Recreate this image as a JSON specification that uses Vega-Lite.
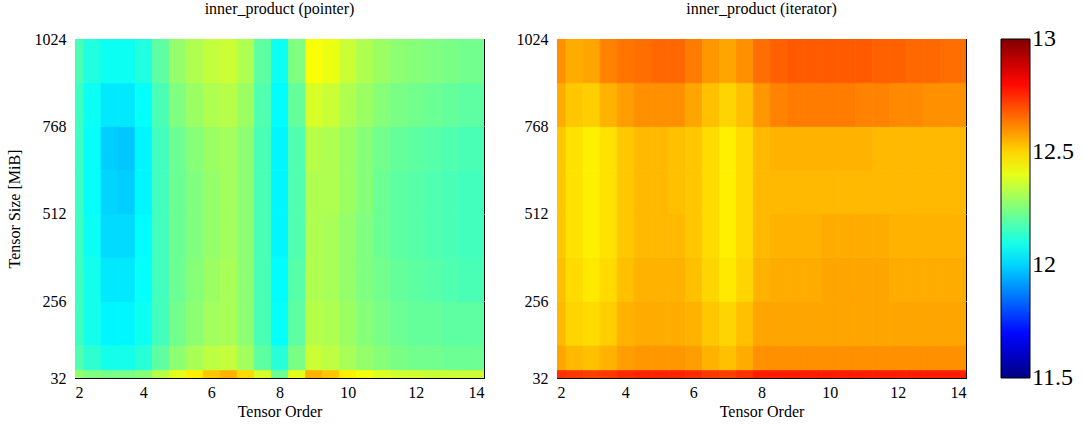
{
  "$schema": "https://vega.github.io/schema/vega-lite/v6.json",
  "padding": {"left": 5, "top": 0, "right": 0, "bottom": 0},
  "config": {
    "font": "Liberation Serif",
    "view": {"stroke": "black", "strokeWidth": 1},
    "axis": {
      "labelFont": "Liberation Serif",
      "titleFont": "Liberation Serif",
      "labelFontSize": 16,
      "titleFontSize": 16,
      "titleFontWeight": "normal",
      "labelColor": "black",
      "titleColor": "black",
      "domain": false,
      "ticks": false,
      "grid": true,
      "gridWidth": 1,
      "zindex": 1
    },
    "title": {"font": "Liberation Serif", "fontSize": 16, "fontWeight": "normal", "color": "black", "offset": 14},
    "legend": {
      "labelFont": "Liberation Serif",
      "labelFontSize": 24,
      "labelColor": "black",
      "gradientLength": 339,
      "gradientThickness": 29,
      "gradientStrokeColor": "black",
      "gradientStrokeWidth": 1,
      "labelOverlap": false,
      "labelOffset": 9,
      "offset": 34,
      "padding": 0
    }
  },
  "data": {
    "values": [
      {"impl":"pointer","order":2,"lo":32,"hi":56,"v":12.28},{"impl":"pointer","order":2.5,"lo":32,"hi":56,"v":12.25},{"impl":"pointer","order":3,"lo":32,"hi":56,"v":12.24},{"impl":"pointer","order":3.5,"lo":32,"hi":56,"v":12.24},{"impl":"pointer","order":4,"lo":32,"hi":56,"v":12.26},{"impl":"pointer","order":4.5,"lo":32,"hi":56,"v":12.33},{"impl":"pointer","order":5,"lo":32,"hi":56,"v":12.40},{"impl":"pointer","order":5.5,"lo":32,"hi":56,"v":12.46},{"impl":"pointer","order":6,"lo":32,"hi":56,"v":12.52},{"impl":"pointer","order":6.5,"lo":32,"hi":56,"v":12.55},{"impl":"pointer","order":7,"lo":32,"hi":56,"v":12.49},{"impl":"pointer","order":7.5,"lo":32,"hi":56,"v":12.38},{"impl":"pointer","order":8,"lo":32,"hi":56,"v":12.22},{"impl":"pointer","order":8.5,"lo":32,"hi":56,"v":12.40},{"impl":"pointer","order":9,"lo":32,"hi":56,"v":12.55},{"impl":"pointer","order":9.5,"lo":32,"hi":56,"v":12.52},{"impl":"pointer","order":10,"lo":32,"hi":56,"v":12.46},{"impl":"pointer","order":10.5,"lo":32,"hi":56,"v":12.42},{"impl":"pointer","order":11,"lo":32,"hi":56,"v":12.39},{"impl":"pointer","order":11.5,"lo":32,"hi":56,"v":12.37},{"impl":"pointer","order":12,"lo":32,"hi":56,"v":12.37},{"impl":"pointer","order":12.5,"lo":32,"hi":56,"v":12.36},{"impl":"pointer","order":13,"lo":32,"hi":56,"v":12.36},{"impl":"pointer","order":13.5,"lo":32,"hi":56,"v":12.36},{"impl":"pointer","order":14,"lo":32,"hi":56,"v":12.36},
      {"impl":"pointer","order":2,"lo":56,"hi":128,"v":12.18},{"impl":"pointer","order":2.5,"lo":56,"hi":128,"v":12.13},{"impl":"pointer","order":3,"lo":56,"hi":128,"v":12.09},{"impl":"pointer","order":3.5,"lo":56,"hi":128,"v":12.09},{"impl":"pointer","order":4,"lo":56,"hi":128,"v":12.12},{"impl":"pointer","order":4.5,"lo":56,"hi":128,"v":12.20},{"impl":"pointer","order":5,"lo":56,"hi":128,"v":12.27},{"impl":"pointer","order":5.5,"lo":56,"hi":128,"v":12.31},{"impl":"pointer","order":6,"lo":56,"hi":128,"v":12.34},{"impl":"pointer","order":6.5,"lo":56,"hi":128,"v":12.35},{"impl":"pointer","order":7,"lo":56,"hi":128,"v":12.30},{"impl":"pointer","order":7.5,"lo":56,"hi":128,"v":12.20},{"impl":"pointer","order":8,"lo":56,"hi":128,"v":12.12},{"impl":"pointer","order":8.5,"lo":56,"hi":128,"v":12.24},{"impl":"pointer","order":9,"lo":56,"hi":128,"v":12.36},{"impl":"pointer","order":9.5,"lo":56,"hi":128,"v":12.34},{"impl":"pointer","order":10,"lo":56,"hi":128,"v":12.31},{"impl":"pointer","order":10.5,"lo":56,"hi":128,"v":12.28},{"impl":"pointer","order":11,"lo":56,"hi":128,"v":12.26},{"impl":"pointer","order":11.5,"lo":56,"hi":128,"v":12.24},{"impl":"pointer","order":12,"lo":56,"hi":128,"v":12.23},{"impl":"pointer","order":12.5,"lo":56,"hi":128,"v":12.23},{"impl":"pointer","order":13,"lo":56,"hi":128,"v":12.22},{"impl":"pointer","order":13.5,"lo":56,"hi":128,"v":12.22},{"impl":"pointer","order":14,"lo":56,"hi":128,"v":12.22},
      {"impl":"pointer","order":2,"lo":128,"hi":256,"v":12.15},{"impl":"pointer","order":2.5,"lo":128,"hi":256,"v":12.09},{"impl":"pointer","order":3,"lo":128,"hi":256,"v":12.05},{"impl":"pointer","order":3.5,"lo":128,"hi":256,"v":12.05},{"impl":"pointer","order":4,"lo":128,"hi":256,"v":12.08},{"impl":"pointer","order":4.5,"lo":128,"hi":256,"v":12.16},{"impl":"pointer","order":5,"lo":128,"hi":256,"v":12.23},{"impl":"pointer","order":5.5,"lo":128,"hi":256,"v":12.27},{"impl":"pointer","order":6,"lo":128,"hi":256,"v":12.30},{"impl":"pointer","order":6.5,"lo":128,"hi":256,"v":12.31},{"impl":"pointer","order":7,"lo":128,"hi":256,"v":12.27},{"impl":"pointer","order":7.5,"lo":128,"hi":256,"v":12.17},{"impl":"pointer","order":8,"lo":128,"hi":256,"v":12.07},{"impl":"pointer","order":8.5,"lo":128,"hi":256,"v":12.20},{"impl":"pointer","order":9,"lo":128,"hi":256,"v":12.33},{"impl":"pointer","order":9.5,"lo":128,"hi":256,"v":12.32},{"impl":"pointer","order":10,"lo":128,"hi":256,"v":12.29},{"impl":"pointer","order":10.5,"lo":128,"hi":256,"v":12.26},{"impl":"pointer","order":11,"lo":128,"hi":256,"v":12.24},{"impl":"pointer","order":11.5,"lo":128,"hi":256,"v":12.22},{"impl":"pointer","order":12,"lo":128,"hi":256,"v":12.21},{"impl":"pointer","order":12.5,"lo":128,"hi":256,"v":12.21},{"impl":"pointer","order":13,"lo":128,"hi":256,"v":12.20},{"impl":"pointer","order":13.5,"lo":128,"hi":256,"v":12.20},{"impl":"pointer","order":14,"lo":128,"hi":256,"v":12.20},
      {"impl":"pointer","order":2,"lo":256,"hi":384,"v":12.15},{"impl":"pointer","order":2.5,"lo":256,"hi":384,"v":12.09},{"impl":"pointer","order":3,"lo":256,"hi":384,"v":12.03},{"impl":"pointer","order":3.5,"lo":256,"hi":384,"v":12.03},{"impl":"pointer","order":4,"lo":256,"hi":384,"v":12.07},{"impl":"pointer","order":4.5,"lo":256,"hi":384,"v":12.16},{"impl":"pointer","order":5,"lo":256,"hi":384,"v":12.22},{"impl":"pointer","order":5.5,"lo":256,"hi":384,"v":12.26},{"impl":"pointer","order":6,"lo":256,"hi":384,"v":12.29},{"impl":"pointer","order":6.5,"lo":256,"hi":384,"v":12.31},{"impl":"pointer","order":7,"lo":256,"hi":384,"v":12.27},{"impl":"pointer","order":7.5,"lo":256,"hi":384,"v":12.17},{"impl":"pointer","order":8,"lo":256,"hi":384,"v":12.06},{"impl":"pointer","order":8.5,"lo":256,"hi":384,"v":12.19},{"impl":"pointer","order":9,"lo":256,"hi":384,"v":12.32},{"impl":"pointer","order":9.5,"lo":256,"hi":384,"v":12.31},{"impl":"pointer","order":10,"lo":256,"hi":384,"v":12.28},{"impl":"pointer","order":10.5,"lo":256,"hi":384,"v":12.25},{"impl":"pointer","order":11,"lo":256,"hi":384,"v":12.23},{"impl":"pointer","order":11.5,"lo":256,"hi":384,"v":12.21},{"impl":"pointer","order":12,"lo":256,"hi":384,"v":12.20},{"impl":"pointer","order":12.5,"lo":256,"hi":384,"v":12.19},{"impl":"pointer","order":13,"lo":256,"hi":384,"v":12.18},{"impl":"pointer","order":13.5,"lo":256,"hi":384,"v":12.17},{"impl":"pointer","order":14,"lo":256,"hi":384,"v":12.17},
      {"impl":"pointer","order":2,"lo":384,"hi":512,"v":12.15},{"impl":"pointer","order":2.5,"lo":384,"hi":512,"v":12.08},{"impl":"pointer","order":3,"lo":384,"hi":512,"v":12.01},{"impl":"pointer","order":3.5,"lo":384,"hi":512,"v":12.01},{"impl":"pointer","order":4,"lo":384,"hi":512,"v":12.06},{"impl":"pointer","order":4.5,"lo":384,"hi":512,"v":12.16},{"impl":"pointer","order":5,"lo":384,"hi":512,"v":12.22},{"impl":"pointer","order":5.5,"lo":384,"hi":512,"v":12.25},{"impl":"pointer","order":6,"lo":384,"hi":512,"v":12.28},{"impl":"pointer","order":6.5,"lo":384,"hi":512,"v":12.30},{"impl":"pointer","order":7,"lo":384,"hi":512,"v":12.27},{"impl":"pointer","order":7.5,"lo":384,"hi":512,"v":12.17},{"impl":"pointer","order":8,"lo":384,"hi":512,"v":12.05},{"impl":"pointer","order":8.5,"lo":384,"hi":512,"v":12.18},{"impl":"pointer","order":9,"lo":384,"hi":512,"v":12.32},{"impl":"pointer","order":9.5,"lo":384,"hi":512,"v":12.31},{"impl":"pointer","order":10,"lo":384,"hi":512,"v":12.28},{"impl":"pointer","order":10.5,"lo":384,"hi":512,"v":12.25},{"impl":"pointer","order":11,"lo":384,"hi":512,"v":12.22},{"impl":"pointer","order":11.5,"lo":384,"hi":512,"v":12.20},{"impl":"pointer","order":12,"lo":384,"hi":512,"v":12.19},{"impl":"pointer","order":12.5,"lo":384,"hi":512,"v":12.18},{"impl":"pointer","order":13,"lo":384,"hi":512,"v":12.17},{"impl":"pointer","order":13.5,"lo":384,"hi":512,"v":12.16},{"impl":"pointer","order":14,"lo":384,"hi":512,"v":12.16},
      {"impl":"pointer","order":2,"lo":512,"hi":640,"v":12.15},{"impl":"pointer","order":2.5,"lo":512,"hi":640,"v":12.07},{"impl":"pointer","order":3,"lo":512,"hi":640,"v":12.00},{"impl":"pointer","order":3.5,"lo":512,"hi":640,"v":11.99},{"impl":"pointer","order":4,"lo":512,"hi":640,"v":12.05},{"impl":"pointer","order":4.5,"lo":512,"hi":640,"v":12.16},{"impl":"pointer","order":5,"lo":512,"hi":640,"v":12.22},{"impl":"pointer","order":5.5,"lo":512,"hi":640,"v":12.25},{"impl":"pointer","order":6,"lo":512,"hi":640,"v":12.28},{"impl":"pointer","order":6.5,"lo":512,"hi":640,"v":12.30},{"impl":"pointer","order":7,"lo":512,"hi":640,"v":12.27},{"impl":"pointer","order":7.5,"lo":512,"hi":640,"v":12.17},{"impl":"pointer","order":8,"lo":512,"hi":640,"v":12.05},{"impl":"pointer","order":8.5,"lo":512,"hi":640,"v":12.18},{"impl":"pointer","order":9,"lo":512,"hi":640,"v":12.32},{"impl":"pointer","order":9.5,"lo":512,"hi":640,"v":12.32},{"impl":"pointer","order":10,"lo":512,"hi":640,"v":12.29},{"impl":"pointer","order":10.5,"lo":512,"hi":640,"v":12.26},{"impl":"pointer","order":11,"lo":512,"hi":640,"v":12.22},{"impl":"pointer","order":11.5,"lo":512,"hi":640,"v":12.20},{"impl":"pointer","order":12,"lo":512,"hi":640,"v":12.19},{"impl":"pointer","order":12.5,"lo":512,"hi":640,"v":12.18},{"impl":"pointer","order":13,"lo":512,"hi":640,"v":12.17},{"impl":"pointer","order":13.5,"lo":512,"hi":640,"v":12.16},{"impl":"pointer","order":14,"lo":512,"hi":640,"v":12.16},
      {"impl":"pointer","order":2,"lo":640,"hi":768,"v":12.15},{"impl":"pointer","order":2.5,"lo":640,"hi":768,"v":12.07},{"impl":"pointer","order":3,"lo":640,"hi":768,"v":11.99},{"impl":"pointer","order":3.5,"lo":640,"hi":768,"v":11.98},{"impl":"pointer","order":4,"lo":640,"hi":768,"v":12.05},{"impl":"pointer","order":4.5,"lo":640,"hi":768,"v":12.16},{"impl":"pointer","order":5,"lo":640,"hi":768,"v":12.22},{"impl":"pointer","order":5.5,"lo":640,"hi":768,"v":12.26},{"impl":"pointer","order":6,"lo":640,"hi":768,"v":12.29},{"impl":"pointer","order":6.5,"lo":640,"hi":768,"v":12.30},{"impl":"pointer","order":7,"lo":640,"hi":768,"v":12.27},{"impl":"pointer","order":7.5,"lo":640,"hi":768,"v":12.17},{"impl":"pointer","order":8,"lo":640,"hi":768,"v":12.05},{"impl":"pointer","order":8.5,"lo":640,"hi":768,"v":12.18},{"impl":"pointer","order":9,"lo":640,"hi":768,"v":12.33},{"impl":"pointer","order":9.5,"lo":640,"hi":768,"v":12.32},{"impl":"pointer","order":10,"lo":640,"hi":768,"v":12.29},{"impl":"pointer","order":10.5,"lo":640,"hi":768,"v":12.26},{"impl":"pointer","order":11,"lo":640,"hi":768,"v":12.23},{"impl":"pointer","order":11.5,"lo":640,"hi":768,"v":12.21},{"impl":"pointer","order":12,"lo":640,"hi":768,"v":12.20},{"impl":"pointer","order":12.5,"lo":640,"hi":768,"v":12.19},{"impl":"pointer","order":13,"lo":640,"hi":768,"v":12.18},{"impl":"pointer","order":13.5,"lo":640,"hi":768,"v":12.17},{"impl":"pointer","order":14,"lo":640,"hi":768,"v":12.17},
      {"impl":"pointer","order":2,"lo":768,"hi":896,"v":12.15},{"impl":"pointer","order":2.5,"lo":768,"hi":896,"v":12.08},{"impl":"pointer","order":3,"lo":768,"hi":896,"v":12.03},{"impl":"pointer","order":3.5,"lo":768,"hi":896,"v":12.03},{"impl":"pointer","order":4,"lo":768,"hi":896,"v":12.07},{"impl":"pointer","order":4.5,"lo":768,"hi":896,"v":12.17},{"impl":"pointer","order":5,"lo":768,"hi":896,"v":12.25},{"impl":"pointer","order":5.5,"lo":768,"hi":896,"v":12.29},{"impl":"pointer","order":6,"lo":768,"hi":896,"v":12.32},{"impl":"pointer","order":6.5,"lo":768,"hi":896,"v":12.33},{"impl":"pointer","order":7,"lo":768,"hi":896,"v":12.29},{"impl":"pointer","order":7.5,"lo":768,"hi":896,"v":12.18},{"impl":"pointer","order":8,"lo":768,"hi":896,"v":12.06},{"impl":"pointer","order":8.5,"lo":768,"hi":896,"v":12.21},{"impl":"pointer","order":9,"lo":768,"hi":896,"v":12.38},{"impl":"pointer","order":9.5,"lo":768,"hi":896,"v":12.36},{"impl":"pointer","order":10,"lo":768,"hi":896,"v":12.32},{"impl":"pointer","order":10.5,"lo":768,"hi":896,"v":12.29},{"impl":"pointer","order":11,"lo":768,"hi":896,"v":12.26},{"impl":"pointer","order":11.5,"lo":768,"hi":896,"v":12.24},{"impl":"pointer","order":12,"lo":768,"hi":896,"v":12.23},{"impl":"pointer","order":12.5,"lo":768,"hi":896,"v":12.22},{"impl":"pointer","order":13,"lo":768,"hi":896,"v":12.21},{"impl":"pointer","order":13.5,"lo":768,"hi":896,"v":12.20},{"impl":"pointer","order":14,"lo":768,"hi":896,"v":12.20},
      {"impl":"pointer","order":2,"lo":896,"hi":1024,"v":12.17},{"impl":"pointer","order":2.5,"lo":896,"hi":1024,"v":12.11},{"impl":"pointer","order":3,"lo":896,"hi":1024,"v":12.08},{"impl":"pointer","order":3.5,"lo":896,"hi":1024,"v":12.08},{"impl":"pointer","order":4,"lo":896,"hi":1024,"v":12.11},{"impl":"pointer","order":4.5,"lo":896,"hi":1024,"v":12.20},{"impl":"pointer","order":5,"lo":896,"hi":1024,"v":12.28},{"impl":"pointer","order":5.5,"lo":896,"hi":1024,"v":12.32},{"impl":"pointer","order":6,"lo":896,"hi":1024,"v":12.35},{"impl":"pointer","order":6.5,"lo":896,"hi":1024,"v":12.36},{"impl":"pointer","order":7,"lo":896,"hi":1024,"v":12.32},{"impl":"pointer","order":7.5,"lo":896,"hi":1024,"v":12.20},{"impl":"pointer","order":8,"lo":896,"hi":1024,"v":12.08},{"impl":"pointer","order":8.5,"lo":896,"hi":1024,"v":12.25},{"impl":"pointer","order":9,"lo":896,"hi":1024,"v":12.43},{"impl":"pointer","order":9.5,"lo":896,"hi":1024,"v":12.41},{"impl":"pointer","order":10,"lo":896,"hi":1024,"v":12.36},{"impl":"pointer","order":10.5,"lo":896,"hi":1024,"v":12.32},{"impl":"pointer","order":11,"lo":896,"hi":1024,"v":12.29},{"impl":"pointer","order":11.5,"lo":896,"hi":1024,"v":12.27},{"impl":"pointer","order":12,"lo":896,"hi":1024,"v":12.26},{"impl":"pointer","order":12.5,"lo":896,"hi":1024,"v":12.25},{"impl":"pointer","order":13,"lo":896,"hi":1024,"v":12.24},{"impl":"pointer","order":13.5,"lo":896,"hi":1024,"v":12.23},{"impl":"pointer","order":14,"lo":896,"hi":1024,"v":12.23},
      {"impl":"iterator","order":2,"lo":32,"hi":56,"v":12.74},{"impl":"iterator","order":2.5,"lo":32,"hi":56,"v":12.73},{"impl":"iterator","order":3,"lo":32,"hi":56,"v":12.72},{"impl":"iterator","order":3.5,"lo":32,"hi":56,"v":12.73},{"impl":"iterator","order":4,"lo":32,"hi":56,"v":12.75},{"impl":"iterator","order":4.5,"lo":32,"hi":56,"v":12.76},{"impl":"iterator","order":5,"lo":32,"hi":56,"v":12.76},{"impl":"iterator","order":5.5,"lo":32,"hi":56,"v":12.76},{"impl":"iterator","order":6,"lo":32,"hi":56,"v":12.75},{"impl":"iterator","order":6.5,"lo":32,"hi":56,"v":12.73},{"impl":"iterator","order":7,"lo":32,"hi":56,"v":12.72},{"impl":"iterator","order":7.5,"lo":32,"hi":56,"v":12.74},{"impl":"iterator","order":8,"lo":32,"hi":56,"v":12.77},{"impl":"iterator","order":8.5,"lo":32,"hi":56,"v":12.77},{"impl":"iterator","order":9,"lo":32,"hi":56,"v":12.77},{"impl":"iterator","order":9.5,"lo":32,"hi":56,"v":12.77},{"impl":"iterator","order":10,"lo":32,"hi":56,"v":12.77},{"impl":"iterator","order":10.5,"lo":32,"hi":56,"v":12.77},{"impl":"iterator","order":11,"lo":32,"hi":56,"v":12.77},{"impl":"iterator","order":11.5,"lo":32,"hi":56,"v":12.77},{"impl":"iterator","order":12,"lo":32,"hi":56,"v":12.77},{"impl":"iterator","order":12.5,"lo":32,"hi":56,"v":12.77},{"impl":"iterator","order":13,"lo":32,"hi":56,"v":12.77},{"impl":"iterator","order":13.5,"lo":32,"hi":56,"v":12.77},{"impl":"iterator","order":14,"lo":32,"hi":56,"v":12.77},
      {"impl":"iterator","order":2,"lo":56,"hi":128,"v":12.57},{"impl":"iterator","order":2.5,"lo":56,"hi":128,"v":12.54},{"impl":"iterator","order":3,"lo":56,"hi":128,"v":12.53},{"impl":"iterator","order":3.5,"lo":56,"hi":128,"v":12.55},{"impl":"iterator","order":4,"lo":56,"hi":128,"v":12.58},{"impl":"iterator","order":4.5,"lo":56,"hi":128,"v":12.59},{"impl":"iterator","order":5,"lo":56,"hi":128,"v":12.59},{"impl":"iterator","order":5.5,"lo":56,"hi":128,"v":12.59},{"impl":"iterator","order":6,"lo":56,"hi":128,"v":12.58},{"impl":"iterator","order":6.5,"lo":56,"hi":128,"v":12.55},{"impl":"iterator","order":7,"lo":56,"hi":128,"v":12.53},{"impl":"iterator","order":7.5,"lo":56,"hi":128,"v":12.56},{"impl":"iterator","order":8,"lo":56,"hi":128,"v":12.60},{"impl":"iterator","order":8.5,"lo":56,"hi":128,"v":12.60},{"impl":"iterator","order":9,"lo":56,"hi":128,"v":12.60},{"impl":"iterator","order":9.5,"lo":56,"hi":128,"v":12.60},{"impl":"iterator","order":10,"lo":56,"hi":128,"v":12.60},{"impl":"iterator","order":10.5,"lo":56,"hi":128,"v":12.60},{"impl":"iterator","order":11,"lo":56,"hi":128,"v":12.60},{"impl":"iterator","order":11.5,"lo":56,"hi":128,"v":12.60},{"impl":"iterator","order":12,"lo":56,"hi":128,"v":12.60},{"impl":"iterator","order":12.5,"lo":56,"hi":128,"v":12.60},{"impl":"iterator","order":13,"lo":56,"hi":128,"v":12.60},{"impl":"iterator","order":13.5,"lo":56,"hi":128,"v":12.60},{"impl":"iterator","order":14,"lo":56,"hi":128,"v":12.60},
      {"impl":"iterator","order":2,"lo":128,"hi":256,"v":12.54},{"impl":"iterator","order":2.5,"lo":128,"hi":256,"v":12.50},{"impl":"iterator","order":3,"lo":128,"hi":256,"v":12.49},{"impl":"iterator","order":3.5,"lo":128,"hi":256,"v":12.51},{"impl":"iterator","order":4,"lo":128,"hi":256,"v":12.55},{"impl":"iterator","order":4.5,"lo":128,"hi":256,"v":12.56},{"impl":"iterator","order":5,"lo":128,"hi":256,"v":12.56},{"impl":"iterator","order":5.5,"lo":128,"hi":256,"v":12.56},{"impl":"iterator","order":6,"lo":128,"hi":256,"v":12.55},{"impl":"iterator","order":6.5,"lo":128,"hi":256,"v":12.52},{"impl":"iterator","order":7,"lo":128,"hi":256,"v":12.50},{"impl":"iterator","order":7.5,"lo":128,"hi":256,"v":12.53},{"impl":"iterator","order":8,"lo":128,"hi":256,"v":12.57},{"impl":"iterator","order":8.5,"lo":128,"hi":256,"v":12.57},{"impl":"iterator","order":9,"lo":128,"hi":256,"v":12.57},{"impl":"iterator","order":9.5,"lo":128,"hi":256,"v":12.57},{"impl":"iterator","order":10,"lo":128,"hi":256,"v":12.57},{"impl":"iterator","order":10.5,"lo":128,"hi":256,"v":12.57},{"impl":"iterator","order":11,"lo":128,"hi":256,"v":12.57},{"impl":"iterator","order":11.5,"lo":128,"hi":256,"v":12.57},{"impl":"iterator","order":12,"lo":128,"hi":256,"v":12.57},{"impl":"iterator","order":12.5,"lo":128,"hi":256,"v":12.57},{"impl":"iterator","order":13,"lo":128,"hi":256,"v":12.57},{"impl":"iterator","order":13.5,"lo":128,"hi":256,"v":12.57},{"impl":"iterator","order":14,"lo":128,"hi":256,"v":12.57},
      {"impl":"iterator","order":2,"lo":256,"hi":384,"v":12.53},{"impl":"iterator","order":2.5,"lo":256,"hi":384,"v":12.49},{"impl":"iterator","order":3,"lo":256,"hi":384,"v":12.47},{"impl":"iterator","order":3.5,"lo":256,"hi":384,"v":12.49},{"impl":"iterator","order":4,"lo":256,"hi":384,"v":12.53},{"impl":"iterator","order":4.5,"lo":256,"hi":384,"v":12.55},{"impl":"iterator","order":5,"lo":256,"hi":384,"v":12.55},{"impl":"iterator","order":5.5,"lo":256,"hi":384,"v":12.55},{"impl":"iterator","order":6,"lo":256,"hi":384,"v":12.53},{"impl":"iterator","order":6.5,"lo":256,"hi":384,"v":12.50},{"impl":"iterator","order":7,"lo":256,"hi":384,"v":12.47},{"impl":"iterator","order":7.5,"lo":256,"hi":384,"v":12.50},{"impl":"iterator","order":8,"lo":256,"hi":384,"v":12.55},{"impl":"iterator","order":8.5,"lo":256,"hi":384,"v":12.56},{"impl":"iterator","order":9,"lo":256,"hi":384,"v":12.56},{"impl":"iterator","order":9.5,"lo":256,"hi":384,"v":12.56},{"impl":"iterator","order":10,"lo":256,"hi":384,"v":12.57},{"impl":"iterator","order":10.5,"lo":256,"hi":384,"v":12.57},{"impl":"iterator","order":11,"lo":256,"hi":384,"v":12.57},{"impl":"iterator","order":11.5,"lo":256,"hi":384,"v":12.57},{"impl":"iterator","order":12,"lo":256,"hi":384,"v":12.56},{"impl":"iterator","order":12.5,"lo":256,"hi":384,"v":12.56},{"impl":"iterator","order":13,"lo":256,"hi":384,"v":12.56},{"impl":"iterator","order":13.5,"lo":256,"hi":384,"v":12.56},{"impl":"iterator","order":14,"lo":256,"hi":384,"v":12.56},
      {"impl":"iterator","order":2,"lo":384,"hi":512,"v":12.52},{"impl":"iterator","order":2.5,"lo":384,"hi":512,"v":12.48},{"impl":"iterator","order":3,"lo":384,"hi":512,"v":12.46},{"impl":"iterator","order":3.5,"lo":384,"hi":512,"v":12.48},{"impl":"iterator","order":4,"lo":384,"hi":512,"v":12.52},{"impl":"iterator","order":4.5,"lo":384,"hi":512,"v":12.54},{"impl":"iterator","order":5,"lo":384,"hi":512,"v":12.54},{"impl":"iterator","order":5.5,"lo":384,"hi":512,"v":12.54},{"impl":"iterator","order":6,"lo":384,"hi":512,"v":12.52},{"impl":"iterator","order":6.5,"lo":384,"hi":512,"v":12.49},{"impl":"iterator","order":7,"lo":384,"hi":512,"v":12.46},{"impl":"iterator","order":7.5,"lo":384,"hi":512,"v":12.49},{"impl":"iterator","order":8,"lo":384,"hi":512,"v":12.54},{"impl":"iterator","order":8.5,"lo":384,"hi":512,"v":12.55},{"impl":"iterator","order":9,"lo":384,"hi":512,"v":12.55},{"impl":"iterator","order":9.5,"lo":384,"hi":512,"v":12.55},{"impl":"iterator","order":10,"lo":384,"hi":512,"v":12.56},{"impl":"iterator","order":10.5,"lo":384,"hi":512,"v":12.56},{"impl":"iterator","order":11,"lo":384,"hi":512,"v":12.56},{"impl":"iterator","order":11.5,"lo":384,"hi":512,"v":12.56},{"impl":"iterator","order":12,"lo":384,"hi":512,"v":12.55},{"impl":"iterator","order":12.5,"lo":384,"hi":512,"v":12.55},{"impl":"iterator","order":13,"lo":384,"hi":512,"v":12.55},{"impl":"iterator","order":13.5,"lo":384,"hi":512,"v":12.55},{"impl":"iterator","order":14,"lo":384,"hi":512,"v":12.55},
      {"impl":"iterator","order":2,"lo":512,"hi":640,"v":12.52},{"impl":"iterator","order":2.5,"lo":512,"hi":640,"v":12.48},{"impl":"iterator","order":3,"lo":512,"hi":640,"v":12.46},{"impl":"iterator","order":3.5,"lo":512,"hi":640,"v":12.48},{"impl":"iterator","order":4,"lo":512,"hi":640,"v":12.52},{"impl":"iterator","order":4.5,"lo":512,"hi":640,"v":12.54},{"impl":"iterator","order":5,"lo":512,"hi":640,"v":12.54},{"impl":"iterator","order":5.5,"lo":512,"hi":640,"v":12.53},{"impl":"iterator","order":6,"lo":512,"hi":640,"v":12.52},{"impl":"iterator","order":6.5,"lo":512,"hi":640,"v":12.49},{"impl":"iterator","order":7,"lo":512,"hi":640,"v":12.46},{"impl":"iterator","order":7.5,"lo":512,"hi":640,"v":12.49},{"impl":"iterator","order":8,"lo":512,"hi":640,"v":12.54},{"impl":"iterator","order":8.5,"lo":512,"hi":640,"v":12.54},{"impl":"iterator","order":9,"lo":512,"hi":640,"v":12.54},{"impl":"iterator","order":9.5,"lo":512,"hi":640,"v":12.54},{"impl":"iterator","order":10,"lo":512,"hi":640,"v":12.54},{"impl":"iterator","order":10.5,"lo":512,"hi":640,"v":12.54},{"impl":"iterator","order":11,"lo":512,"hi":640,"v":12.54},{"impl":"iterator","order":11.5,"lo":512,"hi":640,"v":12.54},{"impl":"iterator","order":12,"lo":512,"hi":640,"v":12.54},{"impl":"iterator","order":12.5,"lo":512,"hi":640,"v":12.54},{"impl":"iterator","order":13,"lo":512,"hi":640,"v":12.54},{"impl":"iterator","order":13.5,"lo":512,"hi":640,"v":12.54},{"impl":"iterator","order":14,"lo":512,"hi":640,"v":12.54},
      {"impl":"iterator","order":2,"lo":640,"hi":768,"v":12.52},{"impl":"iterator","order":2.5,"lo":640,"hi":768,"v":12.48},{"impl":"iterator","order":3,"lo":640,"hi":768,"v":12.46},{"impl":"iterator","order":3.5,"lo":640,"hi":768,"v":12.48},{"impl":"iterator","order":4,"lo":640,"hi":768,"v":12.52},{"impl":"iterator","order":4.5,"lo":640,"hi":768,"v":12.54},{"impl":"iterator","order":5,"lo":640,"hi":768,"v":12.54},{"impl":"iterator","order":5.5,"lo":640,"hi":768,"v":12.53},{"impl":"iterator","order":6,"lo":640,"hi":768,"v":12.52},{"impl":"iterator","order":6.5,"lo":640,"hi":768,"v":12.49},{"impl":"iterator","order":7,"lo":640,"hi":768,"v":12.46},{"impl":"iterator","order":7.5,"lo":640,"hi":768,"v":12.49},{"impl":"iterator","order":8,"lo":640,"hi":768,"v":12.54},{"impl":"iterator","order":8.5,"lo":640,"hi":768,"v":12.55},{"impl":"iterator","order":9,"lo":640,"hi":768,"v":12.55},{"impl":"iterator","order":9.5,"lo":640,"hi":768,"v":12.55},{"impl":"iterator","order":10,"lo":640,"hi":768,"v":12.55},{"impl":"iterator","order":10.5,"lo":640,"hi":768,"v":12.55},{"impl":"iterator","order":11,"lo":640,"hi":768,"v":12.55},{"impl":"iterator","order":11.5,"lo":640,"hi":768,"v":12.54},{"impl":"iterator","order":12,"lo":640,"hi":768,"v":12.54},{"impl":"iterator","order":12.5,"lo":640,"hi":768,"v":12.54},{"impl":"iterator","order":13,"lo":640,"hi":768,"v":12.54},{"impl":"iterator","order":13.5,"lo":640,"hi":768,"v":12.54},{"impl":"iterator","order":14,"lo":640,"hi":768,"v":12.54},
      {"impl":"iterator","order":2,"lo":768,"hi":896,"v":12.56},{"impl":"iterator","order":2.5,"lo":768,"hi":896,"v":12.52},{"impl":"iterator","order":3,"lo":768,"hi":896,"v":12.51},{"impl":"iterator","order":3.5,"lo":768,"hi":896,"v":12.55},{"impl":"iterator","order":4,"lo":768,"hi":896,"v":12.58},{"impl":"iterator","order":4.5,"lo":768,"hi":896,"v":12.60},{"impl":"iterator","order":5,"lo":768,"hi":896,"v":12.60},{"impl":"iterator","order":5.5,"lo":768,"hi":896,"v":12.60},{"impl":"iterator","order":6,"lo":768,"hi":896,"v":12.57},{"impl":"iterator","order":6.5,"lo":768,"hi":896,"v":12.53},{"impl":"iterator","order":7,"lo":768,"hi":896,"v":12.50},{"impl":"iterator","order":7.5,"lo":768,"hi":896,"v":12.53},{"impl":"iterator","order":8,"lo":768,"hi":896,"v":12.59},{"impl":"iterator","order":8.5,"lo":768,"hi":896,"v":12.62},{"impl":"iterator","order":9,"lo":768,"hi":896,"v":12.63},{"impl":"iterator","order":9.5,"lo":768,"hi":896,"v":12.63},{"impl":"iterator","order":10,"lo":768,"hi":896,"v":12.63},{"impl":"iterator","order":10.5,"lo":768,"hi":896,"v":12.63},{"impl":"iterator","order":11,"lo":768,"hi":896,"v":12.62},{"impl":"iterator","order":11.5,"lo":768,"hi":896,"v":12.62},{"impl":"iterator","order":12,"lo":768,"hi":896,"v":12.61},{"impl":"iterator","order":12.5,"lo":768,"hi":896,"v":12.61},{"impl":"iterator","order":13,"lo":768,"hi":896,"v":12.60},{"impl":"iterator","order":13.5,"lo":768,"hi":896,"v":12.60},{"impl":"iterator","order":14,"lo":768,"hi":896,"v":12.60},
      {"impl":"iterator","order":2,"lo":896,"hi":1024,"v":12.60},{"impl":"iterator","order":2.5,"lo":896,"hi":1024,"v":12.56},{"impl":"iterator","order":3,"lo":896,"hi":1024,"v":12.57},{"impl":"iterator","order":3.5,"lo":896,"hi":1024,"v":12.62},{"impl":"iterator","order":4,"lo":896,"hi":1024,"v":12.64},{"impl":"iterator","order":4.5,"lo":896,"hi":1024,"v":12.65},{"impl":"iterator","order":5,"lo":896,"hi":1024,"v":12.66},{"impl":"iterator","order":5.5,"lo":896,"hi":1024,"v":12.66},{"impl":"iterator","order":6,"lo":896,"hi":1024,"v":12.63},{"impl":"iterator","order":6.5,"lo":896,"hi":1024,"v":12.59},{"impl":"iterator","order":7,"lo":896,"hi":1024,"v":12.57},{"impl":"iterator","order":7.5,"lo":896,"hi":1024,"v":12.60},{"impl":"iterator","order":8,"lo":896,"hi":1024,"v":12.65},{"impl":"iterator","order":8.5,"lo":896,"hi":1024,"v":12.67},{"impl":"iterator","order":9,"lo":896,"hi":1024,"v":12.68},{"impl":"iterator","order":9.5,"lo":896,"hi":1024,"v":12.68},{"impl":"iterator","order":10,"lo":896,"hi":1024,"v":12.68},{"impl":"iterator","order":10.5,"lo":896,"hi":1024,"v":12.68},{"impl":"iterator","order":11,"lo":896,"hi":1024,"v":12.68},{"impl":"iterator","order":11.5,"lo":896,"hi":1024,"v":12.67},{"impl":"iterator","order":12,"lo":896,"hi":1024,"v":12.67},{"impl":"iterator","order":12.5,"lo":896,"hi":1024,"v":12.66},{"impl":"iterator","order":13,"lo":896,"hi":1024,"v":12.66},{"impl":"iterator","order":13.5,"lo":896,"hi":1024,"v":12.65},{"impl":"iterator","order":14,"lo":896,"hi":1024,"v":12.65}
    ]
  },
  "spacing": 30,
  "resolve": {"scale": {"color": "shared"}},
  "hconcat": [
    {
      "title": "inner_product (pointer)",
      "width": 409,
      "height": 339,
      "transform": [{"filter": "datum.impl == 'pointer'"}],
      "mark": {"type": "rect", "clip": true, "binSpacing": 0, "strokeWidth": 0.8, "stroke": {"expr": "scale('color', datum.v)"}},
      "encoding": {
        "x": {
          "field": "order",
          "type": "quantitative",
          "bin": {"step": 0.5, "extent": [1.75, 14.25], "nice": false},
          "scale": {"domain": [2, 14], "nice": false, "zero": false},
          "axis": {
            "values": [2, 4, 6, 8, 10, 12, 14], "title": "Tensor Order", "labelPadding": 6, "titlePadding": 3, "format": "d",
            "gridColor": {"condition": {"test": "datum.value == 2 || datum.value == 14", "value": "black"}, "value": "#d2d2d2"},
            "gridDash": {"condition": {"test": "datum.value == 2 || datum.value == 14", "value": []}, "value": [2, 2]}
          }
        },
        "y": {
          "field": "lo",
          "type": "quantitative",
          "scale": {"domain": [32, 1024], "nice": false, "zero": false},
          "axis": {
            "values": [32, 256, 512, 768, 1024], "title": "Tensor Size [MiB]", "labelPadding": 9, "titlePadding": 12, "format": "d",
            "gridColor": {"condition": {"test": "datum.value == 32 || datum.value == 1024", "value": "black"}, "value": "#d2d2d2"},
            "gridDash": {"condition": {"test": "datum.value == 32 || datum.value == 1024", "value": []}, "value": [2, 2]}
          }
        },
        "y2": {"field": "hi"},
        "color": {
          "field": "v",
          "type": "quantitative",
          "title": null,
          "scale": {
            "type": "linear",
            "domain": [11.5, 11.6875, 12.0625, 12.4375, 12.8125, 13],
            "range": ["#000080", "#0000ff", "#00ffff", "#ffff00", "#ff0000", "#800000"],
            "interpolate": "rgb"
          },
          "legend": {
            "type": "gradient", "values": [11.5, 12, 12.5, 13], "format": "~g", "direction": "vertical", "orient": "right", "labelFont": "Liberation Serif",
            "encode": {"labels": {"update": {"baseline": {"value": "middle"}}}}
          }
        }
      }
    },
    {
      "title": "inner_product (iterator)",
      "width": 409,
      "height": 339,
      "transform": [{"filter": "datum.impl == 'iterator'"}],
      "mark": {"type": "rect", "clip": true, "binSpacing": 0, "strokeWidth": 0.8, "stroke": {"expr": "scale('color', datum.v)"}},
      "encoding": {
        "x": {
          "field": "order",
          "type": "quantitative",
          "bin": {"step": 0.5, "extent": [1.75, 14.25], "nice": false},
          "scale": {"domain": [2, 14], "nice": false, "zero": false},
          "axis": {
            "values": [2, 4, 6, 8, 10, 12, 14], "title": "Tensor Order", "labelPadding": 6, "titlePadding": 3, "format": "d",
            "gridColor": {"condition": {"test": "datum.value == 2 || datum.value == 14", "value": "black"}, "value": "#d2d2d2"},
            "gridDash": {"condition": {"test": "datum.value == 2 || datum.value == 14", "value": []}, "value": [2, 2]}
          }
        },
        "y": {
          "field": "lo",
          "type": "quantitative",
          "scale": {"domain": [32, 1024], "nice": false, "zero": false},
          "axis": {
            "values": [32, 256, 512, 768, 1024], "title": null, "labelPadding": 9, "format": "d",
            "gridColor": {"condition": {"test": "datum.value == 32 || datum.value == 1024", "value": "black"}, "value": "#d2d2d2"},
            "gridDash": {"condition": {"test": "datum.value == 32 || datum.value == 1024", "value": []}, "value": [2, 2]}
          }
        },
        "y2": {"field": "hi"},
        "color": {
          "field": "v",
          "type": "quantitative",
          "title": null,
          "scale": {
            "type": "linear",
            "domain": [11.5, 11.6875, 12.0625, 12.4375, 12.8125, 13],
            "range": ["#000080", "#0000ff", "#00ffff", "#ffff00", "#ff0000", "#800000"],
            "interpolate": "rgb"
          },
          "legend": {
            "type": "gradient", "values": [11.5, 12, 12.5, 13], "format": "~g", "direction": "vertical", "orient": "right", "labelFont": "Liberation Serif",
            "encode": {"labels": {"update": {"baseline": {"value": "middle"}}}}
          }
        }
      }
    }
  ]
}
